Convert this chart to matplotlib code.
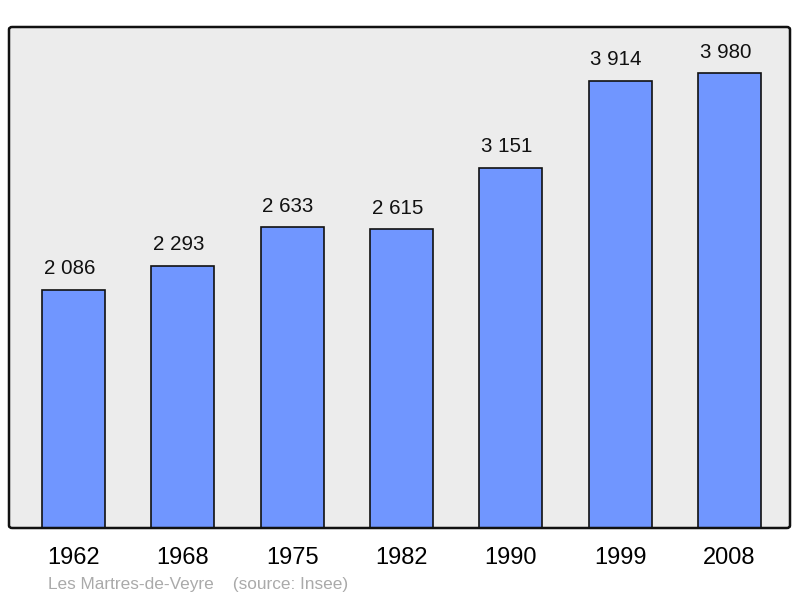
import matplotlib
matplotlib.use("Agg")
import matplotlib.pyplot as plt
from matplotlib.patches import FancyBboxPatch

years = ["1962", "1968", "1975", "1982", "1990", "1999", "2008"]
population = [2086, 2293, 2633, 2615, 3151, 3914, 3980]
value_labels = ["2 086", "2 293", "2 633", "2 615", "3 151", "3 914", "3 980"]

plt.rcParams['font.family'] = ['Liberation Sans', 'DejaVu Sans']

W, H = 800, 598
fig = plt.figure(figsize=(W / 100, H / 100), dpi=100)
ax = fig.add_axes([9 / W, 1 - 528 / H, 781 / W, 501 / H])
ax.set_facecolor('#ececec')

x = list(range(len(years)))
ax.bar(x, population, width=0.576, color='#7096ff', edgecolor='#111111', linewidth=1.2, zorder=2)
for xi, v, lab in zip(x, population, value_labels):
    ax.annotate(lab, (xi, v), xytext=(-3, 8.5), textcoords='offset points',
                ha='center', va='bottom', fontsize=14.8, color='#111111')

ax.set_xlim(-0.59, 6.553)
ax.set_ylim(0, 4387)
ax.set_yticks([])
ax.set_xticks(x)
ax.set_xticklabels(years, fontsize=17)
ax.tick_params(axis='x', length=0, pad=14)
for s in ax.spines.values():
    s.set_visible(False)

frame = FancyBboxPatch((9 / W, 1 - 528 / H), 781 / W, 501 / H,
                       boxstyle='round,pad=0,rounding_size=0.004',
                       transform=fig.transFigure, fill=False,
                       edgecolor='#111111', linewidth=1.8, zorder=5)
fig.patches.append(frame)

fig.text(48 / W, 1 - 584 / H, "Les Martres-de-Veyre    (source: Insee)",
         fontsize=12.4, color='#aaaaaa', ha='left', va='center')

fig.savefig("out.png", dpi=100, facecolor='white')
